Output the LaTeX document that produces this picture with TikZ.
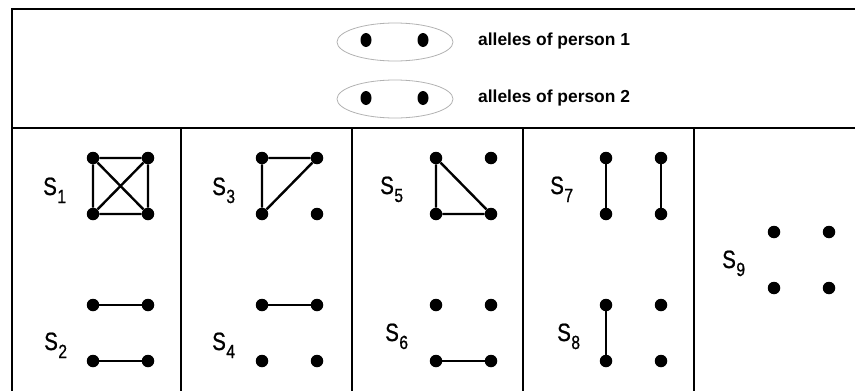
\documentclass[tikz,border=0pt]{standalone}
\usepackage{fontspec}
\setmainfont{Liberation Sans}
\newfontfamily\labfont[FakeStretch=0.82,FakeBold=0.8]{Liberation Sans}
\usetikzlibrary{shapes.geometric}
\tikzset{
  dot/.style={circle,fill=black,inner sep=0pt,minimum size=12.5pt},
  legdot/.style={ellipse,fill=black,inner sep=0pt,minimum width=11pt,minimum height=14pt},
  legring/.style={ellipse,draw=black!30,line width=0.8pt,minimum width=116pt,minimum height=38pt,inner sep=0pt},
  legtext/.style={anchor=west,inner sep=0pt,font=\fontsize{17.4}{20}\selectfont\bfseries},
  edge/.style={line width=2.4pt},
  frame/.style={line width=2.2pt},
  divider/.style={line width=1.4pt},
  slab/.style={anchor=base west,inner sep=0pt,font=\labfont\fontsize{25}{27}\selectfont}
}
\newcommand{\fourdots}[3]{%
  \node[dot] (#1a) at (#2,#3) {};
  \node[dot] (#1b) at (#2+55,#3) {};
  \node[dot] (#1c) at (#2,#3+56) {};
  \node[dot] (#1d) at (#2+55,#3+56) {};
}
\newcommand{\slabel}[4]{\node[slab] (#1) at (#2,#3) {S\kern0.5pt\raisebox{-8pt}{\fontsize{19}{19}\selectfont #4}};}
\begin{document}
\begin{tikzpicture}[x=1pt,y=-1pt]
\useasboundingbox (0,0) rectangle (855,391);
% frame
\coordinate (tl) at (12,9);
\coordinate (tr) at (855,9);
\coordinate (bl) at (12,391);
\coordinate (ml) at (12,128);
\coordinate (mr) at (855,128);
\draw[frame] (bl) -- (tl) -- (tr);
\draw[frame] (ml) -- (mr);
\foreach \x [count=\i] in {181,352,523,694}{
  \coordinate (d\i t) at (\x,128);
  \coordinate (d\i b) at (\x,391);
  \draw[divider] (d\i t) -- (d\i b);
}
% legend
\node[legring] (r1) at (395,42) {};
\node[legdot] (p1a) at (366,40) {};
\node[legdot] (p1b) at (423,40) {};
\node[legtext] (t1) at (478,41) {alleles of person 1};
\node[legring] (r2) at (395,99) {};
\node[legdot] (p2a) at (366,98) {};
\node[legdot] (p2b) at (423,98) {};
\node[legtext] (t2) at (478,98) {alleles of person 2};
% groups
\fourdots{s1}{93}{158}
\fourdots{s2}{93}{305}
\fourdots{s3}{262}{158}
\fourdots{s4}{262}{305}
\fourdots{s5}{436}{158}
\fourdots{s6}{436}{305}
\fourdots{s7}{606}{158}
\fourdots{s8}{606}{305}
\fourdots{s9}{774}{232}
% edges
\draw[edge] (s1a) -- (s1b) (s1c) -- (s1d) (s1a) -- (s1c) (s1b) -- (s1d) (s1a) -- (s1d) (s1b) -- (s1c);
\draw[edge] (s2a) -- (s2b) (s2c) -- (s2d);
\draw[edge] (s3a) -- (s3b) (s3a) -- (s3c) (s3b) -- (s3c);
\draw[edge] (s4a) -- (s4b);
\draw[edge] (s5a) -- (s5c) (s5c) -- (s5d) (s5a) -- (s5d);
\draw[edge] (s6c) -- (s6d);
\draw[edge] (s7a) -- (s7c) (s7b) -- (s7d);
\draw[edge] (s8a) -- (s8c);
% labels
\slabel{l1}{43}{195}{1}
\slabel{l2}{44}{350}{2}
\slabel{l3}{212}{195}{3}
\slabel{l4}{212}{350}{4}
\slabel{l5}{380}{194}{5}
\slabel{l6}{385}{341}{6}
\slabel{l7}{550}{194}{7}
\slabel{l8}{557}{341}{8}
\slabel{l9}{722}{268}{9}
\end{tikzpicture}
\end{document}
